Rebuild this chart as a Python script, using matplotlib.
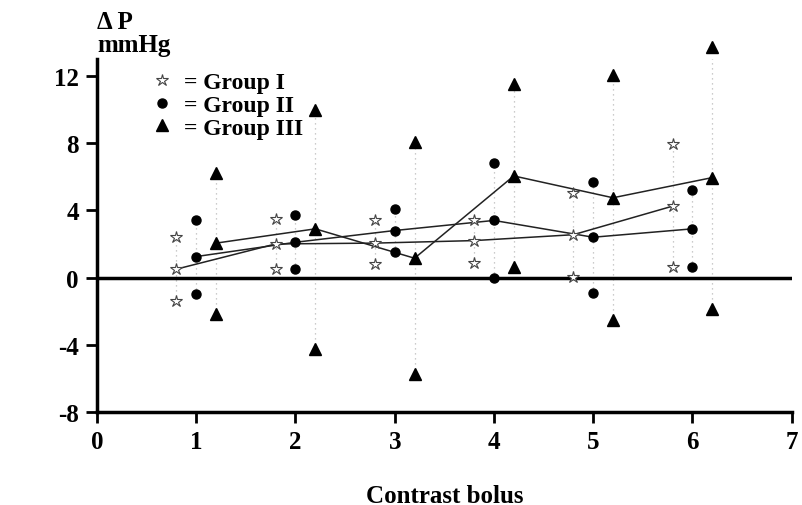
import matplotlib.pyplot as plt
import numpy as np

# contrast bolus number
bolus = np.array([1, 2, 3, 4, 5, 6])

# Group I (stars, offset -0.2)
g1_mean = [0.5, 2.0, 2.05, 2.2, 2.55, 4.25]
g1_high = [2.4, 3.5, 3.4, 3.45, 5.05, 7.95]
g1_low = [-1.4, 0.5, 0.8, 0.85, 0.05, 0.6]

# Group II (circles, no offset)
g2_mean = [1.25, 2.1, 2.8, 3.4, 2.4, 2.9]
g2_high = [3.4, 3.7, 4.1, 6.8, 5.7, 5.2]
g2_low = [-1.0, 0.5, 1.5, 0.0, -0.9, 0.6]

# Group III (triangles, offset +0.2)
g3_mean = [2.05, 2.9, 1.15, 6.05, 4.75, 5.95]
g3_high = [6.25, 10.0, 8.05, 11.55, 12.05, 13.75]
g3_low = [-2.15, -4.25, -5.75, 0.6, -2.55, -1.9]

plt.rcParams['font.family'] = 'Liberation Serif'
plt.rcParams['font.weight'] = 'bold'
plt.rcParams['axes.labelweight'] = 'bold'
plt.rcParams['axes.unicode_minus'] = False

fig = plt.figure(figsize=(8.02, 5.06), dpi=100, facecolor='white')
ax = fig.add_axes([0.121, 0.184, 0.866, 0.697])

groups = [
    (-0.2, g1_mean, g1_high, g1_low, dict(marker='*', ms=9, mfc='white', mec='#444444', mew=0.8), '= Group I'),
    (0.0, g2_mean, g2_high, g2_low, dict(marker='o', ms=6.5, mfc='black', mec='black'), '= Group II'),
    (0.2, g3_mean, g3_high, g3_low, dict(marker='^', ms=8, mfc='black', mec='black'), '= Group III'),
]

handles = []
for off, mean, high, low, mk, label in groups:
    x = bolus + off
    ax.vlines(x, low, high, colors='#bbbbbb', linestyles=(0, (1, 3)), lw=0.9, zorder=1)
    ax.plot(x, mean, color='#222222', lw=1.1, zorder=2)
    ax.plot(x, mean, ls='none', zorder=3, clip_on=False, **mk)
    ax.plot(x, high, ls='none', zorder=3, clip_on=False, **mk)
    ax.plot(x, low, ls='none', zorder=3, clip_on=False, **mk)
    h, = ax.plot([], [], ls='none', **mk)
    handles.append((h, label))

ax.axhline(0, color='black', lw=2.5, zorder=1)

ax.set_xlim(0, 7)
ax.set_ylim(-8, 13)
ax.set_xticks(range(0, 8))
ax.set_yticks([-8, -4, 0, 4, 8, 12])
for s in ['top', 'right']:
    ax.spines[s].set_visible(False)
for s in ['left', 'bottom']:
    ax.spines[s].set_linewidth(2.5)
ax.tick_params(width=2, length=8, labelsize=18, pad=5)

ax.set_xlabel('Contrast bolus', fontsize=18, labelpad=22)
fig.text(0.121, 0.955, '\u0394 P', fontsize=18, ha='left', va='center')
fig.text(0.121, 0.91, 'mmHg', fontsize=18, ha='left', va='center')

ax.legend([h for h, _ in handles], [l for _, l in handles], loc='upper left',
          bbox_to_anchor=(0.05, 1.025), frameon=False, handlelength=0.8,
          handletextpad=0.5, labelspacing=0.05, fontsize=17)

plt.savefig('out.png', dpi=100)
